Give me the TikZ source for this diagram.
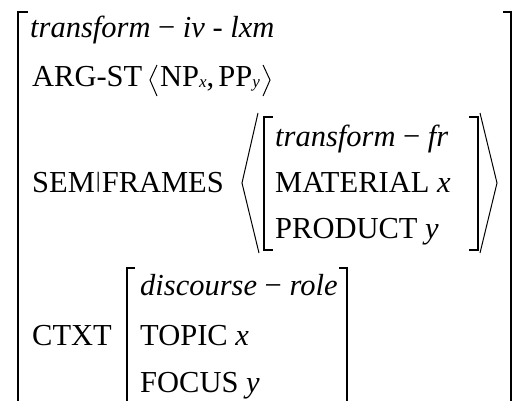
\documentclass[tikz,border=0pt]{standalone}
\usepackage{fontspec}
\setmainfont{Liberation Serif}
\usetikzlibrary{calc}
\begin{document}
\begin{tikzpicture}[x=1pt,y=-1pt,
  lbl/.style={anchor=base west, inner sep=0pt, font=\fontsize{30.5}{36}\selectfont},
  brk/.style={line width=1.5pt, line cap=butt, line join=miter},
  ang/.style={line width=1pt, line join=miter}]
\useasboundingbox (0,0) rectangle (514,400);
\newcommand\subvar[1]{\raisebox{-1.5pt}{\fontsize{17}{17}\selectfont\itshape #1}}

% outer matrix
\draw[brk] (28,12) -- (18,12) -- (18,402);
\draw[brk] (503,12) -- (511,12) -- (511,402);

% top rows
\node[lbl] (type) at (30,37) {\itshape transform\upshape\ − \itshape iv\upshape\ - \itshape lxm};
\node[lbl] (argst) at (32,86) {ARG-ST};
\node[lbl] (args) at (160,86) {NP\subvar{x},\kern4pt PP\subvar{y}};
\draw[ang] ($(args.base west)+(-3,-21)$) -- ($(args.base west)+(-10,-6)$) -- ($(args.base west)+(-3,10)$);
\draw[ang] ($(args.base east)+(3,-21)$) -- ($(args.base east)+(10,-6)$) -- ($(args.base east)+(3,10)$);

% SEM|FRAMES with its list of one frame
\node[lbl] (sem) at (32,192) {SEM\kern1pt\raisebox{4.5pt}{\scalebox{0.8}[0.72]{|}}\kern1pt FRAMES};
\draw[ang] (258,113) -- (242,183) -- (259,253);
\draw[ang] (480,113) -- (497,183) -- (480,253);
\draw[brk] (273,117) -- (264,117) -- (264,250) -- (273,250);
\draw[brk] (469,117) -- (478,117) -- (478,250) -- (469,250);
\node[lbl] (frtype) at (275,146) {\itshape transform\upshape\ − \itshape fr};
\node[lbl] (mat) at (275,192) {MATERIAL \itshape x};
\node[lbl] (prod) at (275,238) {PRODUCT \itshape y};

% CTXT
\node[lbl] (ctxt) at (32,345) {CTXT};
\draw[brk] (135,268) -- (127,268) -- (127,402);
\draw[brk] (339,268) -- (347,268) -- (347,402);
\node[lbl] (dtype) at (140,295) {\itshape discourse\upshape\ − \itshape role};
\node[lbl] (topic) at (140,345) {TOPIC \itshape x};
\node[lbl] (focus) at (140,392) {FOCUS \itshape y};
\end{tikzpicture}
\end{document}
